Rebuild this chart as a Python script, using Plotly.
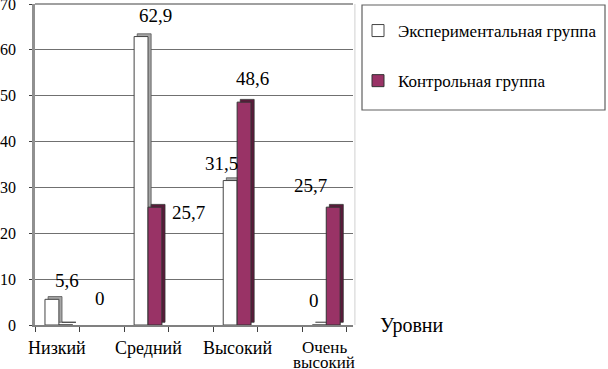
import plotly.graph_objects as go

categories = ["Низкий", "Средний", "Высокий", "Очень<br>высокий"]
exp_values = [5.6, 62.9, 31.5, 0]
ctrl_values = [0, 25.7, 48.6, 25.7]
exp_name = "Экспериментальная группа"
ctrl_name = "Контрольная группа"
y_ticks = [0, 10, 20, 30, 40, 50, 60, 70]

def fmt(v):
    s = ("%.1f" % v).rstrip("0").rstrip(".")
    return s.replace(".", ",")

W, H = 608, 369
ML, MR, MT, MB = 35, 608 - 353, 4, 369 - 325
xs = list(range(len(categories)))
BW = 0.156
SH = 0.035

SERIF = "'Liberation Serif', 'Times New Roman', Times, serif"
PURPLE = "#993366"
PURPLE_DARK = "#5a1a3a"
GREY_SIDE = "#a6a6a6"

fig = go.Figure()
# 3D side faces (drawn behind)
fig.add_trace(go.Bar(x=xs, y=exp_values, base=0.6, width=BW, offset=-BW + SH,
                     marker=dict(color=GREY_SIDE, line=dict(color="#555", width=0.8)),
                     showlegend=False, hoverinfo="skip"))
fig.add_trace(go.Bar(x=xs, y=ctrl_values, base=0.6, width=BW, offset=SH,
                     marker=dict(color=PURPLE_DARK, line=dict(color="#333", width=0.8)),
                     showlegend=False, hoverinfo="skip"))
# front faces
fig.add_trace(go.Bar(x=xs, y=exp_values, width=BW, offset=-BW, name=exp_name,
                     legendgroup="a",
                     marker=dict(color="white", line=dict(color="#444", width=1))))
fig.add_trace(go.Bar(x=xs, y=ctrl_values, width=BW, offset=0, name=ctrl_name,
                     legendgroup="b",
                     marker=dict(color=PURPLE, line=dict(color="#333", width=1))))

# data label placement (style)
exp_dx = [0.09, 0.08, -0.17, -0.14]
exp_dy = [19, 21, 17, 25]
ctrl_dx = [0.46, 0.45, 0.17, -0.18]
ctrl_dy = [27, -5, 24, 22]
for i, v in enumerate(exp_values):
    fig.add_annotation(x=xs[i] + exp_dx[i], y=v, yshift=exp_dy[i], text=fmt(v),
                       showarrow=False, font=dict(family=SERIF, size=19, color="black"))
for i, v in enumerate(ctrl_values):
    fig.add_annotation(x=xs[i] + ctrl_dx[i], y=v, yshift=ctrl_dy[i], text=fmt(v),
                       showarrow=False, font=dict(family=SERIF, size=19, color="black"))

# category labels (tight line spacing as in the reference)
cat_dx = [-0.02, 0.0, 0.0, -0.02]
for i, lab in enumerate(categories):
    lines = lab.split("<br>")
    multi = len(lines) > 1
    for k, line in enumerate(lines):
        fig.add_annotation(x=xs[i] + cat_dx[i], xref="x", yref="paper", y=0,
                           yshift=(-22 - 15 * k) if multi else -23,
                           text=line, showarrow=False, yanchor="middle",
                           font=dict(family=SERIF, size=17 if multi else 18,
                                     color="black"))

fig.add_annotation(xref="paper", yref="paper", x=1.08, y=0.0, xanchor="left",
                   yanchor="middle", text="Уровни", showarrow=False,
                   font=dict(family=SERIF, size=20, color="black"))

# plot frame lines and legend box
fig.add_shape(type="line", xref="paper", yref="paper", x0=0, x1=1, y0=1, y1=1,
              line=dict(color="#808080", width=1.5))
fig.add_shape(type="line", xref="paper", yref="paper", x0=1.006, x1=1.006, y0=0, y1=1,
              line=dict(color="#d0d0d0", width=1))
fig.add_shape(type="rect", xref="paper", yref="paper",
              x0=(362 - ML) / (W - ML - MR), x1=(605 - ML) / (W - ML - MR),
              y0=(H - MB - 110) / (H - MT - MB), y1=(H - MB - 5) / (H - MT - MB),
              line=dict(color="#606060", width=1.2), fillcolor="rgba(0,0,0,0)")

fig.update_layout(
    width=W, height=H,
    margin=dict(l=ML, r=MR, t=MT, b=MB, autoexpand=False),
    paper_bgcolor="white", plot_bgcolor="white",
    barmode="overlay",
    showlegend=True,
    legend=dict(xref="container", yref="container", x=358 / W, y=1 - 13 / H,
                xanchor="left", yanchor="top", bgcolor="rgba(0,0,0,0)",
                borderwidth=0, font=dict(family=SERIF, size=17, color="black"),
                tracegroupgap=25, traceorder="grouped", itemwidth=30),
    xaxis=dict(range=[-0.268, 3.3], tickmode="array", tickvals=xs,
               showticklabels=False,
               ticks="", showgrid=False, zeroline=False, automargin=False,
               showline=True, linecolor="#808080", linewidth=2,
               minor=dict(ticks="outside", tickmode="linear", tick0=-0.268, dtick=0.5,
                          ticklen=5, tickcolor="#404040", showgrid=False)),
    yaxis=dict(range=[0, 70], tickmode="array", tickvals=y_ticks, automargin=False,
               showgrid=True, gridcolor="#707070", gridwidth=1.2,
               zeroline=False, showline=True, linecolor="#909090", linewidth=2.5,
               ticks="outside", ticklen=3, tickcolor="#404040",
               ticklabelstandoff=10, ticklabeloverflow="allow",
               tickfont=dict(family=SERIF, size=16, color="black")),
    font=dict(family=SERIF, color="black"),
)

fig.write_html("out.html", config={"displayModeBar": False},
               post_script="document.body.style.margin='0';")
